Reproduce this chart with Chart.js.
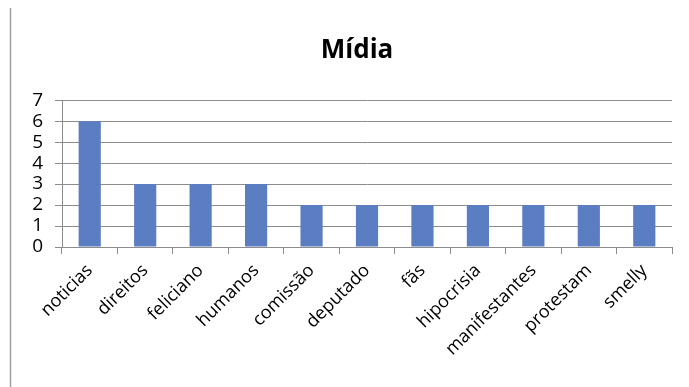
<!DOCTYPE html>
<html>
<head>
<meta charset="utf-8">
<script src="https://cdn.jsdelivr.net/npm/chart.js@4/dist/chart.umd.min.js"></script>
<style>
  html, body { margin: 0; padding: 0; background: #fff; }
  #wrap { width: 689px; height: 387px; position: relative; }
</style>
</head>
<body>
<div id="wrap"><canvas id="chart"></canvas></div>
<script>
// chart data
const categories = ['noticias', 'direitos', 'feliciano', 'humanos', 'comissão', 'deputado', 'fãs', 'hipocrisia', 'manifestantes', 'protestam', 'smelly'];
const counts = [6, 3, 3, 3, 2, 2, 2, 2, 2, 2, 2];
const yTicks = [0, 1, 2, 3, 4, 5, 6, 7];
const chartTitle = 'Mídia';

const gridColor = '#8c8c8c';
const labelFont = { family: 'Open Sans', size: 18 };
const titleFont = { family: 'Open Sans', size: 26, weight: 'bold' };

// gray frame line on the left, and the title drawn a little right of centre like the original
const extras = {
    id: 'extras',
    beforeDraw(chart) {
        const ctx = chart.ctx;
        ctx.save();
        ctx.strokeStyle = '#a0a0a0';
        ctx.lineWidth = 1.5;
        ctx.beginPath();
        ctx.moveTo(10.5, 8);
        ctx.lineTo(10.5, 387);
        ctx.stroke();
        ctx.restore();
    },
    afterDraw(chart) {
        const t = chart.titleBlock;
        const ctx = chart.ctx;
        ctx.save();
        ctx.font = `${titleFont.weight} ${titleFont.size}px "${titleFont.family}"`;
        ctx.fillStyle = '#000';
        ctx.textAlign = 'center';
        ctx.textBaseline = 'middle';
        ctx.fillText(chartTitle, 357, (t.top + t.bottom) / 2);
        ctx.restore();
    }
};

new Chart(document.getElementById('chart').getContext('2d'), {
    type: 'bar',
    data: {
        labels: categories,
        datasets: [{
            data: counts,
            backgroundColor: '#5b7dc1',
            borderWidth: 0,
            barPercentage: 0.4,
            categoryPercentage: 1
        }]
    },
    options: {
        responsive: true,
        maintainAspectRatio: false,
        animation: false,
        layout: { padding: { left: 20, right: 17, top: 0, bottom: 0 } },
        plugins: {
            legend: { display: false },
            tooltip: { enabled: false },
            // title keeps its space here, the visible text is drawn by the extras plugin
            title: {
                display: true,
                text: chartTitle,
                color: 'rgba(0,0,0,0)',
                font: titleFont,
                padding: { top: 34, bottom: 35 }
            }
        },
        scales: {
            x: {
                grid: { display: true, drawOnChartArea: false, offset: true, color: gridColor, tickLength: 7 },
                border: { color: gridColor },
                ticks: { color: '#000', font: labelFont, maxRotation: 45, minRotation: 45, padding: 6, autoSkip: false },
                afterFit: s => { s.height = 387 - 247; }
            },
            y: {
                min: 0,
                max: 7,
                afterBuildTicks: s => { s.ticks = yTicks.map(v => ({ value: v })); },
                grid: { color: gridColor, tickLength: 7 },
                border: { color: gridColor },
                ticks: { color: '#000', font: { family: 'Open Sans', size: 19 }, padding: 12, autoSkip: false },
                afterFit: s => { s.width = 62 - 20; }
            }
        }
    },
    plugins: [extras]
});
</script>
</body>
</html>
